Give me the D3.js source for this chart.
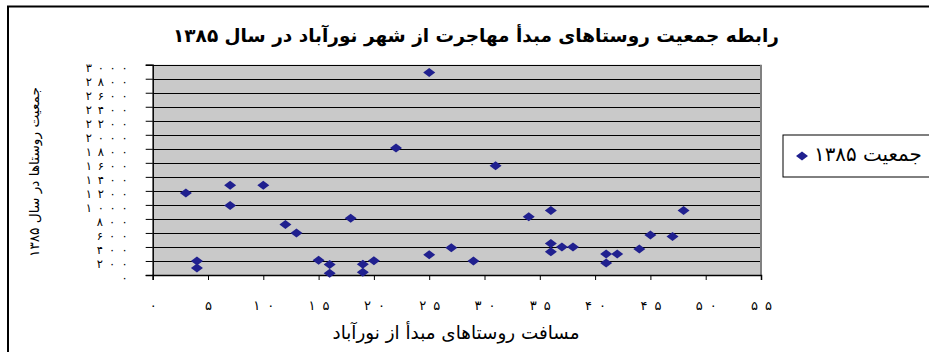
<!DOCTYPE html>
<html><head><meta charset="utf-8">
<script src="https://cdn.jsdelivr.net/npm/d3@7"></script>
<style>
body{margin:0;background:#fff;}
svg{display:block;}
text{font-family:"DejaVu Sans",sans-serif;}
</style>
</head><body>
<svg id="c" width="929" height="352"></svg>
<script>
// ---- data ----
const distance   = [3, 7, 10, 7, 12, 13, 17.9, 4, 4, 15, 16, 16, 19, 19, 20, 22, 25, 25, 27, 29, 31, 34, 36, 36, 36, 37, 38, 41, 41, 42, 44, 45, 47, 48];
const population = [1170, 1280, 1280, 990, 720, 600, 810, 200, 100, 210, 150, 25, 155, 40, 205, 1810, 2890, 290, 390, 200, 1560, 830, 920, 450, 330, 400, 400, 300, 170, 300, 370, 570, 550, 920];
const xTicks = [0, 5, 10, 15, 20, 25, 30, 35, 40, 45, 50, 55];
const yTicks = [0, 200, 400, 600, 800, 1000, 1200, 1400, 1600, 1800, 2000, 2200, 2400, 2600, 2800, 3000];
const titleText   = "رابطه جمعیت روستاهای مبدأ مهاجرت از شهر نورآباد در سال ۱۳۸۵";
const xTitleText  = "مسافت روستاهای مبدأ از نورآباد";
const yTitleText  = "جمعیت روستاها در سال ۱۳۸۵";
const legendLabel = "جمعیت ۱۳۸۵";

// ---- helpers ----
const faDigits = "۰۱۲۳۴۵۶۷۸۹";
const fa = n => String(n).replace(/\d/g, d => faDigits[+d]);
const svg = d3.select("#c");
const P = {l: 152.7, t: 64.7, r: 761, b: 275};
const x = d3.scaleLinear().domain([0, 55]).range([P.l, P.r]);
const y = d3.scaleLinear().domain([0, 3000]).range([P.b, P.t]);
const pointColor = "#20208f";

function fitWidth(sel, target) {
  const w = sel.node().getComputedTextLength();
  const fs = parseFloat(sel.attr("font-size"));
  sel.attr("font-size", fs * target / w);
}
// spread multi-digit labels like the original's wide digit spacing
function spreadDigits(sel, pitch) {
  sel.each(function() {
    const n = this.textContent.length;
    if (n > 1) d3.select(this).attr("textLength", pitch * n - 2).attr("lengthAdjust", "spacing");
  });
}

// outer chart border
svg.append("rect").attr("x", 8).attr("y", 6.5).attr("width", 1000).attr("height", 1000)
  .attr("fill", "#fff").attr("stroke", "#000").attr("stroke-width", 2);

// plot area
svg.append("rect").attr("x", P.l).attr("y", P.t).attr("width", P.r - P.l).attr("height", P.b - P.t)
  .attr("fill", "#c9c9c9");

// gridlines
svg.append("g").selectAll("line").data(yTicks.filter(v => v > 0)).join("line")
  .attr("x1", P.l).attr("x2", P.r)
  .attr("y1", d => Math.round(y(d)) + 0.5).attr("y2", d => Math.round(y(d)) + 0.5)
  .attr("stroke", "#000").attr("stroke-width", 1);

// right border of plot
svg.append("line").attr("x1", P.r).attr("x2", P.r).attr("y1", P.t).attr("y2", P.b)
  .attr("stroke", "#808080").attr("stroke-width", 2);

// axes
const yAxis = svg.append("g").attr("transform", `translate(${P.l},0)`)
  .call(d3.axisLeft(y).tickValues(yTicks).tickSize(7).tickPadding(18).tickFormat(fa));
yAxis.select(".domain").attr("stroke", "#000").attr("stroke-width", 1.5);
yAxis.selectAll(".tick line").attr("stroke", "#000");
yAxis.selectAll(".tick text").attr("font-size", 11.5)
  .attr("fill", "#000").attr("dy", "0.55em").attr("font-family", "DejaVu Sans")
  .call(spreadDigits, 11);

const xAxis = svg.append("g").attr("transform", `translate(0,${P.b})`)
  .call(d3.axisBottom(x).tickValues(xTicks).tickSize(5).tickPadding(21).tickFormat(fa));
xAxis.select(".domain").attr("stroke", "#000").attr("stroke-width", 1.5);
xAxis.selectAll(".tick line").attr("stroke", "#000");
xAxis.selectAll(".tick text").attr("font-size", 13)
  .attr("fill", "#000").attr("font-family", "DejaVu Sans")
  .call(spreadDigits, 11.5);

// points
const diamond = "M0,-4.5L6,0L0,4.5L-6,0Z";
svg.append("g").selectAll("path").data(distance.map((d, i) => [d, population[i]])).join("path")
  .attr("d", diamond)
  .attr("transform", d => `translate(${x(d[0])},${y(d[1])})`)
  .attr("fill", pointColor);

// title
const t = svg.append("text").attr("x", 476).attr("y", 42).attr("text-anchor", "middle")
  .attr("font-size", 16).attr("font-weight", "bold").attr("fill", "#000").text(titleText);
fitWidth(t, 606);

// x title
const xt = svg.append("text").attr("x", 456).attr("y", 339).attr("text-anchor", "middle")
  .attr("font-size", 14).attr("fill", "#000").text(xTitleText);
fitWidth(xt, 247);

// y title
const yt = svg.append("text").attr("transform", "translate(39,172) rotate(-90)")
  .attr("text-anchor", "middle").attr("font-size", 13).attr("fill", "#000").text(yTitleText);
fitWidth(yt, 170);

// legend
svg.append("rect").attr("x", 783).attr("y", 135).attr("width", 300).attr("height", 42)
  .attr("fill", "#fff").attr("stroke", "#000").attr("stroke-width", 1);
svg.append("path").attr("d", diamond).attr("transform", "translate(802,156)").attr("fill", pointColor);
const lg = svg.append("text").attr("x", 814).attr("y", 161).attr("font-size", 15).attr("fill", "#000")
  .text(legendLabel);
fitWidth(lg, 108);
</script>
</body></html>
